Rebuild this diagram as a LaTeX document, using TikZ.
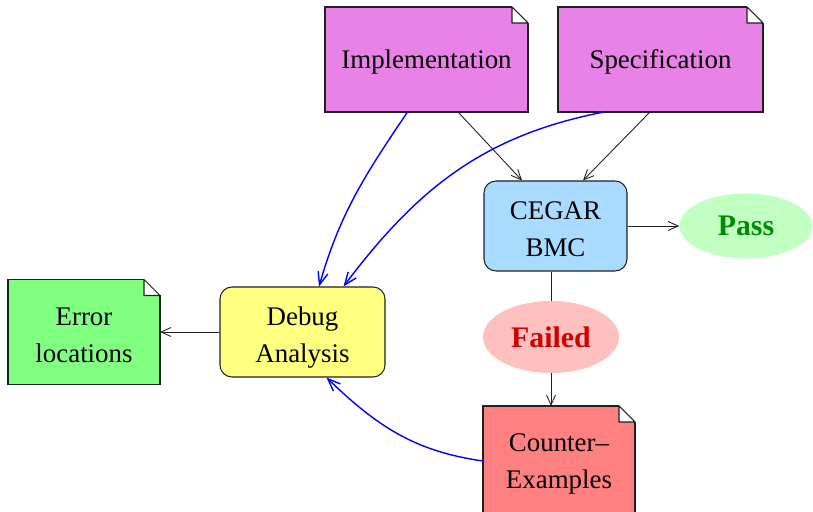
\documentclass[tikz,border=0pt]{standalone}
\usepackage{fontspec}
\setmainfont{Liberation Serif}
\usetikzlibrary{arrows.meta,shapes.geometric}
\definecolor{SourceViolet}{HTML}{E882E6}
\definecolor{EngineBlue}{HTML}{A8DBFF}
\definecolor{PassFill}{HTML}{C2FFC2}
\definecolor{PassGreen}{HTML}{008C00}
\definecolor{FailFill}{HTML}{FFC0C0}
\definecolor{FailRed}{HTML}{D00000}
\definecolor{TraceFill}{HTML}{FF8080}
\definecolor{ErrorFill}{HTML}{80FF80}
\definecolor{DebugFill}{HTML}{FFFF80}
\definecolor{TraceBlue}{HTML}{0000FF}
\definecolor{Ink}{HTML}{202020}

\newcommand{\earsize}{0.32cm}
% folded corner of a document node
\newcommand{\foldcorner}[1]{%
  \fill[white] ([xshift=-\earsize,yshift=1pt]#1.north east) rectangle
    ([xshift=1pt,yshift=-\earsize]#1.north east);
  \draw[draw=Ink, line width=0.6pt, line join=round]
    ([xshift=-\earsize]#1.north east) --
    ([xshift=-\earsize,yshift=-\earsize]#1.north east) --
    ([yshift=-\earsize]#1.north east) -- cycle;}

\begin{document}
\begin{tikzpicture}[
    font=\fontsize{15.3}{21}\selectfont,
    twoline/.style={text height=35pt},
    docnote/.style={
        draw=Ink,
        line width=0.6pt,
        outer sep=0pt,
        inner sep=0pt,
        text height=14pt,
        align=center,
        minimum width=30.4mm,
        minimum height=21mm
    },
    process/.style={
        draw=Ink,
        rounded corners=2.4mm,
        line width=0.6pt,
        inner sep=0pt,
        twoline,
        align=center,
        minimum height=18mm
    },
    verdict/.style={ellipse, inner sep=0pt,
                    font=\fontsize{17}{20}\selectfont\bfseries},
    flow/.style={-{Straight Barb[length=2mm,width=1.8mm]}, line width=0.5pt,
                 draw=Ink},
    feedback/.style={-{Straight Barb[length=2.5mm,width=2mm]}, line width=0.8pt,
                     draw=TraceBlue}
]
\useasboundingbox (0,0) rectangle (16.26,10.22);

% Inputs
\node[docnote, fill=SourceViolet, minimum width=40.6mm] (impl) at (8.53,9.03)
    {Implementation};
\foldcorner{impl}
\node[docnote, fill=SourceViolet, minimum width=41mm] (spec) at (13.21,9.03)
    {Specification};
\foldcorner{spec}

% Checker and verdicts
\node[process, fill=EngineBlue, minimum width=28.6mm] (cegar) at (11.11,5.70)
    {CEGAR\\BMC};
\node[verdict, fill=PassFill, text=PassGreen, minimum width=26.6mm,
      minimum height=13mm] (pass) at (14.92,5.70) {Pass};
\node[verdict, fill=FailFill, text=FailRed, minimum width=27.2mm,
      minimum height=14.4mm] (failed) at (11.02,3.48) {Failed};

\node[docnote, twoline, fill=TraceFill, minimum height=22mm] (counter)
    at (11.18,1.00) {Counter--\\Examples};
\foldcorner{counter}

% Debugging
\node[process, fill=DebugFill, minimum width=33mm, text height=38pt] (debug)
    at (6.05,3.58) {Debug\\Analysis};
\node[docnote, twoline, fill=ErrorFill] (error) at (1.68,3.58)
    {Error\\locations};
\foldcorner{error}

% Checking flow
\draw[flow] ([xshift=0.63cm]impl.south) -- ([xshift=-0.67cm]cegar.north);
\draw[flow] ([xshift=-0.21cm]spec.south) -- ([xshift=0.55cm]cegar.north);
\draw[flow] (cegar.east) -- (pass.west);
\draw[draw=Ink, line width=0.5pt] (cegar.south -| failed) -- (failed.north);
\draw[flow] (failed.south) -- (counter.north -| failed);
\draw[flow] (debug.west) -- (error.east);

% Inputs to the debugger
\draw[feedback] ([xshift=-0.38cm]impl.south) to[out=236,in=74]
    ([xshift=0.33cm]debug.north);
\draw[feedback] ([xshift=-1.13cm]spec.south) to[out=191,in=53]
    ([xshift=0.82cm]debug.north);
\draw[feedback] (counter.west) to[out=172,in=-44]
    ([xshift=0.48cm]debug.south);

\end{tikzpicture}
\end{document}
